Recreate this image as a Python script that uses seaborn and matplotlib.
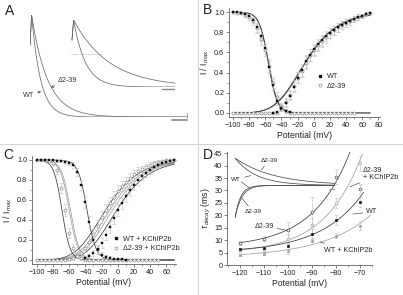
# -*- coding: utf-8 -*-
"""
Kv4: correntes (A), ativacao/inativacao (B, C) e tau de decaimento (D).
"""
import matplotlib
matplotlib.use("Agg")
import matplotlib.pyplot as plt
from matplotlib.lines import Line2D
import numpy as np
import seaborn as sns

################## Dados ##################

# A - constantes de decaimento dos tracos (ms)
a_tau_esq = [45, 80]        # WT, d2-39
a_tau_dir = [60, 180]
a_escala_ms = 75

# B - inativacao / ativacao (WT e d2-39)
b_v_inat_wt = [-100, -95, -90, -85, -80, -75, -70, -65, -60, -55, -50, -45, -40, -35, -30]
b_inat_wt = [1.0, 1.0, 0.99, 0.98, 0.96, 0.92, 0.85, 0.76, 0.64, 0.46, 0.28, 0.12, 0.04, 0.02, 0.01]
b_v_at_wt = [-50, -45, -40, -35, -30, -25, -20, -15, -10, -5, 0, 5, 10, 15, 20, 25, 30, 35, 40, 45, 50, 55, 60, 65, 70]
b_at_wt = [0.0, 0.01, 0.05, 0.10, 0.17, 0.26, 0.35, 0.43, 0.51, 0.57, 0.63, 0.68, 0.72, 0.76, 0.79,
           0.82, 0.85, 0.87, 0.89, 0.91, 0.93, 0.95, 0.96, 0.98, 0.99]
b_v_inat_d = [-100, -95, -90, -85, -80, -75, -70, -65, -60, -55, -50, -45, -40, -35, -30, -25, -20,
              -15, -10, -5, 0, 5, 10, 15, 20, 25, 30, 35, 40, 45, 50]
b_inat_d = [1.0, 0.995, 0.99, 0.97, 0.95, 0.91, 0.84, 0.73, 0.62, 0.47, 0.30, 0.16, 0.07, 0.02, 0.0,
            0.0, 0.0, 0.0, 0.0, 0.0, 0.0, 0.0, 0.0, 0.0, 0.0, 0.0, 0.0, 0.0, 0.0, 0.0, 0.0]
b_v_at_d = [-100, -95, -90, -85, -80, -75, -70, -65, -60, -55, -50, -45, -40, -35, -30, -25, -20,
            -15, -10, -5, 0, 5, 10, 15, 20, 25, 30, 35, 40, 45, 50, 55, 60, 65, 70]
b_at_d = [0.0, 0.0, 0.0, 0.0, 0.0, 0.0, 0.0, 0.0, 0.0, 0.0, 0.0, 0.0, 0.06, 0.11, 0.18, 0.27, 0.35,
          0.42, 0.50, 0.57, 0.62, 0.67, 0.71, 0.75, 0.79, 0.82, 0.85, 0.87, 0.89, 0.91, 0.93, 0.95,
          0.96, 0.98, 0.99]
# ajustes de Boltzmann (V1/2, k)
b_fit_inat = [(-56.5, 5.5), (-56.0, 5.7)]
b_fit_at = [(-51.6, 25.0), (-52.5, 25.0)]

# C - com KChIP2b
c_v_inat_wt = [-100, -95, -90, -85, -80, -75, -70, -65, -60, -55, -50, -45, -40, -35, -30, -25, -20,
               -15, -10, -5, 0, 5, 10]
c_inat_wt = [1.0, 1.0, 1.0, 1.0, 1.0, 0.99, 0.99, 0.98, 0.97, 0.95, 0.88, 0.75, 0.58, 0.38, 0.20,
             0.10, 0.05, 0.03, 0.02, 0.01, 0.01, 0.01, 0.0]
c_v_at_wt = [-40, -35, -30, -25, -20, -15, -10, -5, 0, 5, 10, 15, 20, 25, 30, 35, 40, 45, 50, 55,
             60, 65, 70]
c_at_wt = [0.02, 0.04, 0.07, 0.11, 0.17, 0.25, 0.33, 0.42, 0.50, 0.57, 0.64, 0.70, 0.75, 0.80, 0.84,
           0.87, 0.90, 0.93, 0.95, 0.97, 0.98, 0.99, 1.0]
c_v_inat_d = b_v_inat_d
c_inat_d = [1.0, 1.0, 1.0, 0.99, 0.97, 0.90, 0.72, 0.50, 0.27, 0.12, 0.05, 0.02, 0.0, 0.0, 0.0, 0.0,
            0.0, 0.0, 0.0, 0.0, 0.0, 0.0, 0.0, 0.0, 0.0, 0.0, 0.0, 0.0, 0.0, 0.0, 0.0]
c_v_at_d = b_v_at_d
c_at_d = [0.0, 0.0, 0.0, 0.0, 0.0, 0.0, 0.0, 0.0, 0.01, 0.02, 0.04, 0.07, 0.12, 0.18, 0.26, 0.34,
          0.43, 0.50, 0.57, 0.63, 0.69, 0.74, 0.78, 0.82, 0.86, 0.89, 0.91, 0.93, 0.95, 0.97, 0.98,
          0.99, 1.0, 1.0, 1.0]
c_fit_inat = [(-38.0, 5.5), (-69.0, 5.0)]
c_fit_at = [(-42.7, 25.0), (-56.6, 25.0)]
c_fit_inat_cinza = [(-60.0, 5.5), (-58.5, 5.5)]
c_fit_at_cinza = [(-51.6, 25.0), (-48.0, 25.0)]

# D - tau de decaimento
d_v = [-120, -110, -100, -90, -80, -70]
d_tau_d239 = [9.0, 10.5, 14.0, 21.5, 35.5, 30.5]
d_err_d239 = [0.8, 1.0, 3.2, 6.0, 3.0, 2.0]
d_tau_d239_k = [6.0, 6.5, 10.5, 16.0, 25.0, 41.0]
d_err_d239_k = [0.6, 0.8, 2.0, 3.0, 2.0, 3.0]
d_tau_wt = [6.3, 6.8, 7.8, 12.5, 18.2, 25.5]
d_err_wt = [0.6, 0.7, 1.2, 2.0, 2.0, 2.0]
d_tau_wt_k = [4.2, 4.5, 5.5, 9.5, 11.8, 15.8]
d_err_wt_k = [0.4, 0.5, 1.0, 1.2, 1.0, 1.8]
# ajuste exponencial: tau = c + a*exp((V+120)/s), ate V final
d_fit = {"d239": (7.0, 2.0, 15.5, -72), "d239_k": (4.5, 1.5, 15.5, -69),
         "wt": (5.0, 1.3, 17.6, -68.5), "wt_k": (3.0, 1.2, 20.5, -65.5)}

# D inset - tracos normalizados (ms)
d_ins_tau_dec = [86, 154]   # WT, d2-39
d_ins_tau_rec = [22, 27]
d_ins_amp_rec = -1.19


def boltz(v, vh, k):
    return 1.0 / (1.0 + np.exp((v - vh) / k))


def ativ(v, vh, k):
    return (1.0 / (1.0 + np.exp(-(v - vh) / k))) ** 4


def traco(t, tau, t_pico=8.0, v_ini=0.7):
    y = np.exp(-(t - t_pico) / tau)
    sobe = t < t_pico
    y[sobe] = v_ini + (1 - v_ini) * t[sobe] / t_pico
    return y


################## Figura ##################

sns.set_theme(style="ticks")
plt.rcParams["font.family"] = ["Liberation Sans", "DejaVu Sans"]
plt.rcParams["mathtext.fontset"] = "custom"
plt.rcParams["mathtext.rm"] = "Liberation Sans"
plt.rcParams["mathtext.it"] = "Liberation Sans:italic"

W, H = 403, 295
fig = plt.figure(figsize=(W / 100, H / 100), dpi=100)
fig.patch.set_facecolor("white")

ESCURO = "#3a3a3a"
CINZA = "#a0a0a0"
TRACO = "#6a6a6a"
FS = 5.2


def caixa(x0, x1, y0, y1):
    return [x0 / W, 1 - y1 / H, (x1 - x0) / W, (y1 - y0) / H]


def estilo(ax):
    sns.despine(ax=ax)
    for s in ["left", "bottom"]:
        ax.spines[s].set_linewidth(0.55)
        ax.spines[s].set_color("#555555")
    ax.tick_params(which="major", length=2.2, width=0.5, pad=1.2, labelsize=FS,
                   colors="#555555", labelcolor="#222222")
    ax.tick_params(which="minor", length=1.2, width=0.4, colors="#555555")
    ax.set_facecolor("none")


# separadores
fig.add_artist(Line2D([198 / W, 198 / W], [0, 1], color="#d4d4d4", lw=0.8))
fig.add_artist(Line2D([0, 1], [1 - 144 / H, 1 - 144 / H], color="#d4d4d4", lw=0.8))

for letra, x, y in [("A", 5, 11), ("B", 203, 10), ("C", 3, 155), ("D", 203, 155)]:
    fig.text(x / W, 1 - y / H, letra, fontsize=10, va="center", ha="left", color="#222222")

################## A ##################

ax_a1 = fig.add_axes(caixa(30, 190, 15, 117))
ax_a1.axis("off")
t1 = np.linspace(0, 785, 800)
for tau in a_tau_esq:
    sns.lineplot(x=t1, y=traco(t1, tau), ax=ax_a1, color=TRACO, lw=0.55,
                 estimator=None, sort=False)
ax_a1.plot([t1[-1], t1[-1]], [-0.01, 0.04], color="#888888", lw=0.55, clip_on=False)
ax_a1.plot([t1[-1] - a_escala_ms, t1[-1]], [-0.03, -0.03], color="#888888", lw=1.2,
           clip_on=False)
ax_a1.set_xlim(0, 800)
ax_a1.set_ylim(0, 1)
ax_a1.annotate("WT", xy=(55, 0.25), xytext=(-35, 0.21), fontsize=FS, va="center",
               ha="left", color="#333333",
               arrowprops=dict(arrowstyle="->", lw=0.4, color="#333333",
                               mutation_scale=4, shrinkA=0, shrinkB=0))
ax_a1.annotate("Δ2-39", xy=(105, 0.29), xytext=(140, 0.36), fontsize=FS, va="center",
               ha="left", color="#333333",
               arrowprops=dict(arrowstyle="->", lw=0.4, color="#333333",
                               mutation_scale=4, shrinkA=0, shrinkB=0))

ax_a2 = fig.add_axes(caixa(71, 177, 20, 87))
ax_a2.axis("off")
t2 = np.linspace(0, 520, 600)
for tau in a_tau_dir:
    sns.lineplot(x=t2, y=traco(t2, tau), ax=ax_a2, color=TRACO, lw=0.55,
                 estimator=None, sort=False)
ax_a2.axhline(0.5, xmin=0, xmax=0.29, color="#b0b0b0", lw=0.6, ls=(0, (1, 1)))
ax_a2.plot([t2[-1] - 65, t2[-1] - 5], [-0.03, -0.03], color="#888888", lw=1.0, clip_on=False)
ax_a2.set_xlim(-5, 530)
ax_a2.set_ylim(0, 1)

################## B ##################


def painel_ativ(ax, series, fits_inat, fits_at, cinza_inat=(), cinza_at=()):
    v = np.linspace(-100, 70, 400)
    for vh, k in cinza_inat:
        ax.plot(v, boltz(v, vh, k), color=CINZA, lw=0.55)
    for vh, k in cinza_at:
        ax.plot(v, ativ(v, vh, k), color=CINZA, lw=0.55)
    for vh, k in fits_inat:
        sns.lineplot(x=v, y=boltz(v, vh, k), ax=ax, color=ESCURO, lw=0.55, estimator=None)
    for vh, k in fits_at:
        sns.lineplot(x=v, y=ativ(v, vh, k), ax=ax, color=ESCURO, lw=0.55, estimator=None)
    for vx, vy, cheio in series:
        vy = np.asarray(vy)
        err = 0.06 * np.sqrt(np.clip(vy * (1 - vy), 0, None)) * 2
        ax.errorbar(vx, vy, yerr=err, fmt="none", ecolor="#c0c0c0", elinewidth=0.4,
                    capsize=1.2, capthick=0.4)
        if cheio:
            ax.plot(vx, vy, ls="none", marker="s", ms=1.9, mfc="#111111", mec="#111111",
                    mew=0.3)
        else:
            ax.plot(vx, vy, ls="none", marker="o", ms=2.2, mfc="white", mec="#707070",
                    mew=0.4)
    ax.set_ylim(-0.04, 1.04)
    ax.set_yticks([0.0, 0.2, 0.4, 0.6, 0.8, 1.0])
    ax.set_yticks(np.arange(0.1, 1.0, 0.2), minor=True)
    ax.yaxis.set_major_formatter(matplotlib.ticker.FormatStrFormatter("%.1f"))
    ax.set_xlabel("Potential (mV)", fontsize=6.2, labelpad=1.5, color="#222222")
    ax.set_ylabel("I / I$_{max}$", fontsize=6.2, labelpad=2, color="#222222")


ax_b = fig.add_axes(caixa(229, 380, 8, 117))
estilo(ax_b)
painel_ativ(ax_b,
            [(b_v_inat_d, b_inat_d, False), (b_v_at_d, b_at_d, False),
             (b_v_inat_wt, b_inat_wt, True), (b_v_at_wt, b_at_wt, True)],
            b_fit_inat, b_fit_at)
ax_b.set_xlim(-105, 82)
ax_b.set_xticks(np.arange(-100, 81, 20))
ax_b.set_xticks(np.arange(-90, 81, 20), minor=True)
leg_b = [Line2D([], [], ls="none", marker="s", ms=1.9, mfc="#111111", mec="#111111"),
         Line2D([], [], ls="none", marker="o", ms=2.2, mfc="white", mec="#707070", mew=0.4)]
ax_b.legend(leg_b, ["WT", "Δ2-39"], loc="upper left", bbox_to_anchor=(0.55, 0.45),
            frameon=False, fontsize=FS, handlelength=0.8, handletextpad=0.6,
            labelspacing=0.35, borderpad=0.2)

################## C ##################

ax_c = fig.add_axes(caixa(32, 176, 156, 264))
estilo(ax_c)
painel_ativ(ax_c,
            [(c_v_inat_d, c_inat_d, False), (c_v_at_d, c_at_d, False),
             (c_v_inat_wt, c_inat_wt, True), (c_v_at_wt, c_at_wt, True)],
            c_fit_inat, c_fit_at, c_fit_inat_cinza, c_fit_at_cinza)
ax_c.set_xlim(-106, 72)
ax_c.set_xticks(np.arange(-100, 61, 20))
ax_c.set_xticks(np.arange(-90, 71, 20), minor=True)
ax_c.legend(leg_b, ["WT + KChIP2b", "Δ2-39 + KChIP2b"], loc="upper left",
            bbox_to_anchor=(0.53, 0.31), frameon=False, fontsize=FS, handlelength=0.8,
            handletextpad=0.6, labelspacing=0.35, borderpad=0.2)

################## D ##################

ax_d = fig.add_axes(caixa(227, 372, 152, 265))
estilo(ax_d)
series_d = [
    ("wt_k", d_tau_wt_k, d_err_wt_k, CINZA, "s", "#a0a0a0"),
    ("d239_k", d_tau_d239_k, d_err_d239_k, CINZA, "o", "white"),
    ("wt", d_tau_wt, d_err_wt, ESCURO, "s", "#111111"),
    ("d239", d_tau_d239, d_err_d239, ESCURO, "o", "white"),
]
for nome, tau, err, cor, mk, face in series_d:
    c, a, s, v_fim = d_fit[nome]
    v = np.linspace(-120, v_fim, 200)
    sns.lineplot(x=v, y=c + a * np.exp((v + 120) / s), ax=ax_d, color=cor, lw=0.55,
                 estimator=None)
    ax_d.errorbar(d_v, tau, yerr=err, fmt="none", ecolor="#c0c0c0", elinewidth=0.4,
                  capsize=1.5, capthick=0.4)
    ax_d.plot(d_v, tau, ls="none", marker=mk, ms=2.0, mfc=face,
              mec=cor if face == "white" else face, mew=0.45)
ax_d.set_xlim(-125.4, -65)
ax_d.set_ylim(0, 45.5)
ax_d.set_xticks(np.arange(-120, -69, 10))
ax_d.set_xticks(np.arange(-125, -64, 5), minor=True)
ax_d.set_yticks(np.arange(0, 46, 5))
ax_d.set_xlabel("Potential (mV)", fontsize=6.2, labelpad=1.5, color="#222222")
ax_d.set_ylabel(r"$\tau_{\,decay}$ (ms)", fontsize=6.2, labelpad=1, color="#222222")

seta = dict(arrowstyle="-", lw=0.4, color="#333333", shrinkA=0, shrinkB=0)
ax_d.annotate("Δ2-39", xy=(-100.5, 14.0), xytext=(-110, 15.6), fontsize=FS,
              ha="center", va="center", arrowprops=seta)
ax_d.annotate("Δ2-39\n+ KChIP2b", xy=(-74.2, 31.5), xytext=(-68.7, 36.5), fontsize=FS,
              ha="left", va="center", linespacing=1.0, arrowprops=seta,
              annotation_clip=False)
ax_d.annotate("WT", xy=(-73, 20.5), xytext=(-67.5, 21.4), fontsize=FS, ha="left",
              va="center", arrowprops=seta, annotation_clip=False)
ax_d.annotate("WT + KChIP2b", xy=(-86.7, 9.3), xytext=(-85, 6.0), fontsize=FS,
              ha="left", va="center", arrowprops=seta)

# inset com os tracos
ax_in = fig.add_axes(caixa(235, 335, 158, 218))
ax_in.axis("off")
ti = np.linspace(0, 400, 500)
for tau in d_ins_tau_dec:
    ax_in.plot(ti, np.exp(-ti / tau), color="#4a4a4a", lw=0.55)
for tau in d_ins_tau_rec:
    ax_in.plot(ti, d_ins_amp_rec * np.exp(-ti / tau), color="#4a4a4a", lw=0.55)
ax_in.plot([375, 400], [-0.12, -0.12], color="#a0a0a0", lw=0.8)
ax_in.set_xlim(0, 400)
ax_in.set_ylim(d_ins_amp_rec, 1.0)
ax_d.annotate("Δ2-39", xy=(-111, 38.3), xytext=(-108, 42.2), fontsize=4.6,
              ha="center", va="center", arrowprops=seta)
ax_d.annotate("WT", xy=(-115.5, 36.0), xytext=(-121.5, 34.5), fontsize=4.6,
              ha="center", va="center", arrowprops=seta)
ax_d.annotate("", xy=(-116, 31.0), xytext=(-119.5, 33.5), arrowprops=seta)
ax_d.annotate("Δ2-39", xy=(-119.3, 27.0), xytext=(-114.5, 21.5), fontsize=4.6,
              ha="center", va="center", arrowprops=seta)

fig.savefig("out.png", dpi=100, facecolor="white")
